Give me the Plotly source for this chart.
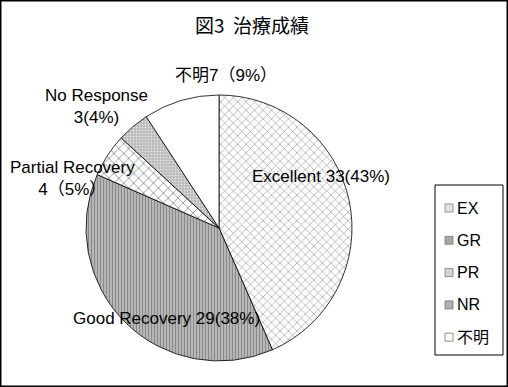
import plotly.graph_objects as go

labels = ["EX", "GR", "PR", "NR", "不明"]
values = [33, 29, 4, 3, 7]
slice_texts = ["Excellent 33(43%)", "Good Recovery 29(38%)", "Partial Recovery<br>4（5%）",
               "No Response<br>3(4%)", "不明7（9%）"]
title_text = "図3  治療成績"

W, H = 508, 387
FONT = "Liberation Sans, Noto Sans CJK JP, sans-serif"

# pie geometry (pixels)
cx, cy, r = 219, 228, 133

shapes_pat = ["x", "|", "x", ".", ""]
bg = ["#ffffff", "#b6b6b6", "#ffffff", "#b8b8b8", "#ffffff"]
fg = ["#8c8c8c", "#8a8a8a", "#444444", "#e2e2e2", "#ffffff"]
psize = [6, 3, 7, 3, 8]
psol = [0.18, 0.35, 0.14, 0.35, 0.1]

fig = go.Figure(go.Pie(
    labels=labels, values=values, sort=False, direction="clockwise", rotation=0,
    textinfo="none", hoverinfo="label+value+percent", showlegend=False,
    marker=dict(colors=bg, line=dict(color="#000000", width=0.8),
                pattern=dict(shape=shapes_pat, bgcolor=bg, fgcolor=fg,
                             size=psize, solidity=psol, fillmode="replace")),
    domain=dict(x=[(cx - r) / W, (cx + r) / W], y=[(H - cy - r) / H, (H - cy + r) / H]),
))

# label positions (pixels, text centers)
label_pos = [(321, 176), (166, 318), (72, 178), (96, 106), (226, 76)]
annotations = []
for t, (x, y) in zip(slice_texts, label_pos):
    annotations.append(dict(text=t, x=x / W, y=1 - y / H, xref="paper", yref="paper",
                            showarrow=False, xanchor="center", yanchor="middle",
                            align="center", font=dict(family=FONT, size=17, color="#000")))
annotations.append(dict(text=title_text, x=252 / W, y=1 - 25 / H, xref="paper", yref="paper",
                        showarrow=False, xanchor="center", yanchor="middle",
                        font=dict(family="Noto Sans CJK JP, sans-serif", size=19, color="#000")))

shapes = [
    dict(type="rect", xref="paper", yref="paper", x0=0, x1=1, y0=0, y1=1,
         line=dict(color="#000", width=3), fillcolor="rgba(0,0,0,0)"),
    dict(type="rect", xref="paper", yref="paper", x0=435 / W, x1=503 / W,
         y0=1 - 355 / H, y1=1 - 185 / H, line=dict(color="#000", width=1),
         fillcolor="rgba(0,0,0,0)"),
]
leg_fill = ["#e4e4e4", "#a8a8a8", "#d4d4d4", "#b0b0b0", "#ffffff"]
leg_y0 = 208
for i, lab in enumerate(labels):
    y = leg_y0 + i * 32.3
    shapes.append(dict(type="rect", xref="paper", yref="paper",
                       x0=445 / W, x1=453 / W, y0=1 - (y + 4) / H, y1=1 - (y - 4) / H,
                       line=dict(color="#777", width=0.8), fillcolor=leg_fill[i]))
    annotations.append(dict(text=lab, x=455 / W, y=1 - y / H, xref="paper", yref="paper",
                            showarrow=False, xanchor="left", yanchor="middle",
                            font=dict(family=FONT, size=16, color="#000")))

fig.update_layout(width=W, height=H, margin=dict(l=0, r=0, t=0, b=0),
                  paper_bgcolor="#fff", plot_bgcolor="#fff",
                  shapes=shapes, annotations=annotations)
fig.write_html("out.html")
